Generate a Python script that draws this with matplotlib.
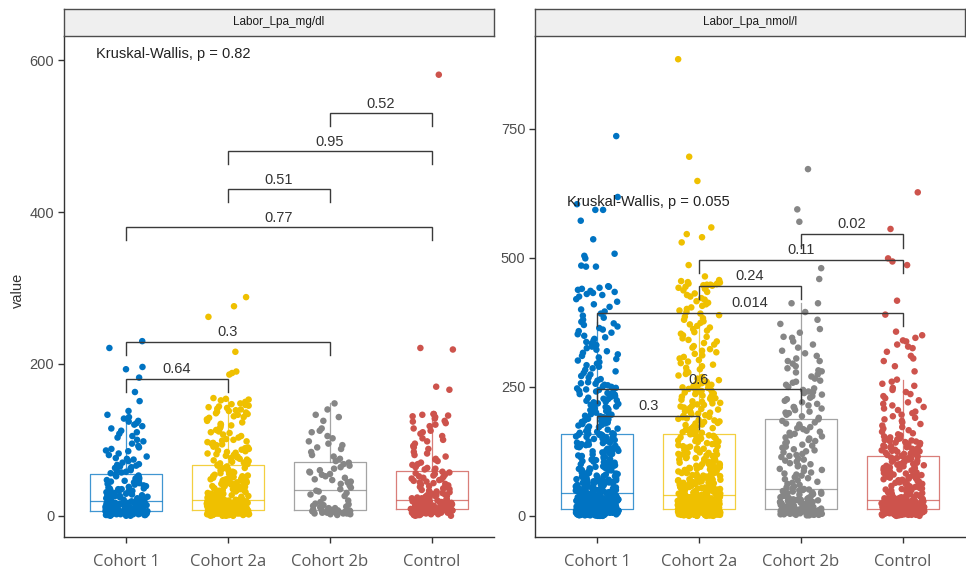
import numpy as np
import matplotlib
matplotlib.use("Agg")
import matplotlib.pyplot as plt

plt.rcParams['font.family'] = ['Liberation Sans', 'DejaVu Sans']


def nums(s):
    return np.array(s.split(), dtype=float)


# ---------------------------------------------------------------------------
# Data
groups = ["Cohort 1", "Cohort 2a", "Cohort 2b", "Control"]
colors = ["#0073C2", "#EFC000", "#868686", "#CD534C"]
panel_titles = ["Labor_Lpa_mg/dl", "Labor_Lpa_nmol/l"]

# Labor_Lpa_mg/dl
c1_mg = nums("""
0 0 0 1 1 1 1 1 1 2 2 2 2 2 2 2 3 3 3 3 3 3 3 3 4 4 4 4 4 4 4 4 5 5 5 5 5 5 5 5 5 6 6 6 6 6 6 6 6 6
7 7 7 7 8 8 8 8 9 9 9 9 10 10 10 10 11 11 11 11 12 12 12 12 13 13 13 13 14 14 14 14 15 15 15 15
16 16 16 16 17 17 17 17 18 18 18 19 19 19
21 21 22 22 23 23 24 24 25 25 26 26 27 27 28 28 29 29 30 30 31 31 32 32 33 33 34 34 35 35 36 36
37 38 39 40 41 42 43 44 45 46 47 48 49 50 51 52 53 54
56 57 58 59 60 62 63 64 65 66 67 68 70 72 74 75 76 78 80 82 85 86 88 90 92 95 98 100 103 105
108 110 112 115 118 120 122 124 125 128 130 133 138 151 163 182 193 196 221 230
""")
c2a_mg = nums("""
0 0 0 0 1 1 1 1 1 1 1 1 2 2 2 2 2 2 2 2 2 2 3 3 3 3 3 3 3 3 3 3 3 4 4 4 4 4 4 4 4 4 4 4
5 5 5 5 5 5 5 5 5 5 5 5 6 6 6 6 6 6 6 6 6 6 6 6 7 7 7 7 7 7 7 7 7 7 7 7
8 8 8 8 8 8 9 9 9 9 9 9 10 10 10 10 10 10 11 11 11 11 11 11 12 12 12 12 12 12 13 13 13 13 13 13
14 14 14 14 14 14 15 15 15 15 15 15 16 16 16 16 16 16 17 17 17 17 17 17 18 18 18 18 18 18
19 19 19 19 19 19 20 20 20 20 20 20 20 20
21 21 22 22 23 23 24 24 25 25 26 26 27 27 28 28 29 29 30 30 31 31 32 32 33 33 34 34 35 35 36 36
37 37 38 38 39 39 40 40 41 41 42 42 43 43 44 44 45 45 46 46 47 47 48 48 49 49 50 50 51 51 52 52
53 53 54 55 56 57 58 59 60 61 62 63 64 65 66 67
68 69 70 71 72 73 74 75 76 77 78 79 80 81 82 83 84 85 86 87 88 89 90 91 92 93 94 95 96 97 98 99
100 101 103 105 107 109 110 111 113 115 117 119 120 121 123 125 127 129 130 131 133 134 135 136
137 138 139 140 141 142 143 144 145 146 147 148 150 152 153 154 155 186 188 190 216 262 276 288
""")
c2b_mg = nums("""
1 2 2 3 3 3 4 4 4 5 5 5 5 6 6 6 6 7 7 7
8 8 9 10 10 11 12 12 13 14 15 16 18 20 23 26 28 30 32 33
35 37 40 42 44 45 47 48 50 52 54 55 57 58 60 62 64 66 68 70
72 75 78 80 84 88 90 93 95 98 102 105 110 112 115 125 130 133 140 148
""")
ctrl_mg = nums("""
0 0 1 1 1 1 2 2 2 2 2 3 3 3 3 3 3 4 4 4 4 4 4 5 5 5 5 5 5 6 6 6 6 6 6 7 7 7 7 7 8 8 8 8 8
9 9 9 9 10 10 10 10 11 11 11 11 12 12 12 12 13 13 13 13 14 14 14 14 15 15 15 15 16 16 16 16
17 17 17 17 18 18 18 18 19 19 19 19 20
21 21 22 22 23 23 24 24 25 25 26 26 27 27 28 29 30 31 32 33 34 35 36 37 38 39 40 41 42 43
44 45 46 47 48 49 50 51 52 53 54 55 56 57 58
60 61 62 63 64 65 67 68 70 72 74 75 78 80 82 84 88 90 92 95 98 100 102 105 108 110 112 115
118 120 122 124 125 128 130 131 132 133 134 134 166 170 219 221 581
""")

# Labor_Lpa_nmol/l
c1_nm = nums("""
0 0 0 0 1 1 1 1 1 1 1 2 2 2 2 2 2 2 2 2 3 3 3 3 3 3 3 3 3 3
4 4 4 4 4 4 4 4 4 4 4 5 5 5 5 5 5 5 5 5 5 5 6 6 6 6 6 6 6 6 6 6 6
7 7 7 7 7 7 7 7 7 7 7 8 8 8 8 8 8 8 8 8 8 8 9 9 9 9 9 9 9 9 9 9 9
10 10 10 10 10 10 10 10 10 10 10 11 11 11 11 11 11 11 11 11 11 11
12 12 12 12 12 12 12 12 12 12 12 13 13 13 13 13 13 13 13 13 13 13
14 14 14 14 14 15 15 15 15 15 16 16 16 16 16 17 17 17 17 17 18 18 18 18 18 19 19 19 19 19
20 20 20 20 20 21 21 21 21 21 22 22 22 22 22 23 23 23 23 23 24 24 24 24 24 25 25 25 25 25
26 26 26 26 26 27 27 27 27 27 28 28 28 28 28 29 29 29 29 29 30 30 30 30 30 31 31 31 31 31
32 32 32 32 32 33 33 33 33 33 34 34 34 34 35 35 35 35 36 36 36 36 37 37 37 37 38 38 38 38
39 39 39 39 40 40 40 40 41 41 41 41 42 42 42 42 43 43 43 43
45 45 46 46 47 47 48 48 49 49 50 50 51 51 52 52 53 53 54 54 55 55 56 56 57 57 58 58 59 59
60 60 61 61 62 62 63 63 64 64 65 65 66 66 67 67 68 68 69 69
70 71 71 73 74 75 77 77 78 80 81 82 82 84 85 87 88 88 89 91 92 93 95 95 96 98 99 100 102 103
103 105 106 108 109 110 110 112 114 115 116 117 119 120 121 121 123 124 126 127 128 130 130 131
133 134 136 137 138 139 141 142 142 144 145 147 148 149 150 151 152 153 154 155 156 157 157 158
159 159 72 76 83 90 97 104 113 125 135 146
160 161 163 164 166 167 169 170 172 173 175 176 178 179 181 182 184 185 187 188 190 191 193 194
196 197 199 200 202 203 205 206 208 209 211 212 214 215 217 218 220 221 223 224 226 227 229 230
232 233 235 236 238 239 241 242 244 245 247 248 250 251 253 254 256 257 259
262 265 268 271 274 277 280 283 286 289 292 295 298 301 304 307 310 313 316 319 322 325 328 331
334 337 340 343 346 349 352 355 358 361 364 367 370 373 376
380 384 388 392 396 400 405 410 415 420 425 428 430 432 434 436 438 440
442 444 445 483 483 485 499 504 508 536 572 593 593 604 618 736
""")
c2a_nm = nums("""
0 0 0 0 1 1 1 1 1 1 1 1 2 2 2 2 2 2 2 2 2 2 3 3 3 3 3 3 3 3 3 3 3
4 4 4 4 4 4 4 4 4 4 4 5 5 5 5 5 5 5 5 5 5 5 6 6 6 6 6 6 6 6 6 6 6
7 7 7 7 7 7 7 7 7 7 7 7 8 8 8 8 8 8 8 8 8 8 8 8 9 9 9 9 9 9 9 9 9 9 9 9
10 10 10 10 10 10 10 10 10 10 10 10 11 11 11 11 11 11 11 11 11 11 11 11
12 12 12 12 12 12 12 12 12 12 12 12 13 13 13 13 13 13 13 13 13 13 13 13
14 14 14 14 14 14 14 15 15 15 15 15 15 15 16 16 16 16 16 16 16 17 17 17 17 17 17 17
18 18 18 18 18 18 18 19 19 19 19 19 19 19 20 20 20 20 20 20 20 21 21 21 21 21 21 21
22 22 22 22 22 22 22 23 23 23 23 23 23 23 24 24 24 24 24 24 24 25 25 25 25 25 25 25
26 26 26 26 26 26 26 27 27 27 27 27 27 27 28 28 28 28 28 28 28 29 29 29 29 29 29 29
30 30 30 30 31 31 31 31 32 32 32 32 33 33 33 33 34 34 34 34 35 35 35 35 36 36 36 36
37 37 37 37 38 38 38 38 39 39
40 40 41 41 42 42 43 43 44 44 45 45 46 46 47 47 48 48 49 49 50 50 51 51 52 52 53 53 54 54
55 55 56 56 57 57 58 58 59 59 60 60 61 61 62 62 63 63 64 64 65 65 66 66 67 67 68 68 69 69
70 70 72 73 74 76 76 77 79 80 81 83 83 84 86 87 88 89 90 92 93 94 94 96 97 99 100 101 101 103
104 106 107 108 109 111 112 112 113 115 116 118 119 120 122 122 123 125 126 127 129 130 131 132
134 135 135 137 138 140 141 143 144 145 146 148 149 150 150 152 153 154 156 157 158 159
71 75 78 82 85 91 95 98 105 110 117 128 139 155
161 162 164 165 167 168 170 171 173 174 176 177 179 180 182 183 185 186 188 189 191 192 194 195
197 198 200 201 203 204 206 207 209 210 212 213 215 216 218 219 221 222 224 225 227 228 230 231
233 234 236 237 239 240 242 243 245 246 248 249 251 252 254 255 257 258 260
263 266 269 272 275 278 281 284 287 290 293 296 299 302 305 308 311 314 317 320 323 326 329 332
335 338 341 344 347 350 353 356 359 362 365 368 371 374 377
380 383 386 389 392 395 398 401 404 407 410 413 416 419 422 425 428 431 434 437 440 442 444 445
446 448 448 450 452 447 449 451 453 457
455 464 486 530 540 546 559 649 696 885
""")
c2b_nm = nums("""
1 1 2 2 2 3 3 3 3 4 4 4 4 4 5 5 5 5 5 6 6 6 6 6 7 7 7 7 7 8 8 8 8 8 8
9 9 9 9 9 9 10 10 10 10 10 10 11 11 11 11 11 11 12 12 12 12 12 12 12
13 13 14 14 15 15 16 16 17 17 18 18 19 19 20 20 21 21 22 22 23 23 24 24 25 25 26 26 27 27
28 28 29 29 30 30 31 31 32 32 33 34 35 36 37 38 39 40 41 42 43 44 45 46 47 48 49 50 51 52
53 55 57 60 62 64 66 69 71 73 75 78 80 82 84 87 89 91 93 96 98 100 102 105 107 109 111 114 116 118
120 123 125 127 129 132 134 136 138 141 143 145 147 150 152 154 156 159 161 163 165 168 170 172 174
177 179 181 184 187
190 193 196 199 200 202 205 208 210 211 214 217 220 223 226 229 232 235 238 240 241 244 247 250
254 258 260 262 266 270 274 278 280 282 286 290 295 300 300 305 310 315 320 326 332 338 345 347
355 362 372 380 395 412 412 459 480 570 594 672
""")
ctrl_nm = nums("""
0 0 1 1 1 2 2 2 2 2 2 3 3 3 3 3 3 3 4 4 4 4 4 4 4 4 5 5 5 5 5 5 5 5 6 6 6 6 6 6 6 6
7 7 7 7 7 7 7 7 8 8 8 8 8 8 8 8 9 9 9 9 9 9 9 9 10 10 10 10 10 10 10 10
11 11 11 11 11 11 11 11 12 12 12 12 12 12 12 12
13 13 13 13 13 14 14 14 14 14 15 15 15 15 15 16 16 16 16 16 17 17 17 17 17 18 18 18 18 18
19 19 19 19 19 20 20 20 20 20 21 21 21 21 21 22 22 22 22 22 23 23 23 23 23 24 24 24 24 24
25 25 25 25 25 26 26 26 26 26 27 27 27 27 27 28 28 28 28 28 29 29 29 29 29 30 30 30 30 30
32 32 33 33 34 34 35 35 36 36 37 38 39 40 41 42 43 44 45 46 47 48 49 50 51 52 53 54 55 56
57 58 59 60 61 62 63 64 65 66 67 68 69 70 71 72 73 74 75 76 77 78 79 80 81 82 83 84 85 86
87 88 89 90 91 92 93 94 95 96 97 98 99 100 101 102 103 104 105 106 107 108 109 110 111 112
113 114 115 116
118 119 120 121 122 123 124 125 126 127 128 129 130 131 132 133 134 135 136 137 138 139 140 141
142 143 144 145 146 147 148 149 150 152 154 156 158 160 163 166 169 172 175 178 181 184 187 190
193 196 199 202 205 208 211 214 217 220 224 228 232 236 240 244 248 252 256 260 264
280 290 300 305 310 318 325 328 332 338 340 345 350 357 390 417 486 493 499 556 627
""")

values_mg = [c1_mg, c2a_mg, c2b_mg, ctrl_mg]
values_nm = [c1_nm, c2a_nm, c2b_nm, ctrl_nm]

# pairwise comparisons and their p values
pairs = [(0, 1), (0, 2), (0, 3), (1, 2), (1, 3), (2, 3)]
p_mg = ["0.64", "0.3", "0.77", "0.51", "0.95", "0.52"]
p_nm = ["0.3", "0.6", "0.014", "0.24", "0.11", "0.02"]
kw_mg = "Kruskal-Wallis, p = 0.82"
kw_nm = "Kruskal-Wallis, p = 0.055"

# ---------------------------------------------------------------------------
# Layout (pixels of a 966 x 577 canvas)
W, H = 966, 577
fig = plt.figure(figsize=(W / 100, H / 100), dpi=100)
fig.patch.set_facecolor("white")


def px_axes(l, t, r, b):
    return fig.add_axes([l / W, 1 - b / H, (r - l) / W, (b - t) / H])


panels = [
    dict(box=(64, 36, 494, 537), vals=values_mg, p=p_mg, kw=kw_mg, ylim=(-28, 632),
         yticks=[0, 200, 400, 600], brk=[180, 229, 380, 430, 480, 530], tick=17, kwy=608),
    dict(box=(535, 36, 965, 537), vals=values_nm, p=p_nm, kw=kw_nm, ylim=(-41, 930),
         yticks=[0, 250, 500, 750], brk=[194, 245, 394, 446, 496, 546], tick=26, kwy=609),
]

rng = np.random.default_rng(11)  # jitter only
pos = np.arange(1, 5)

for k, pan in enumerate(panels):
    l, t, r, b = pan["box"]
    ax = px_axes(l, t, r, b)

    # boxplots (drawn under the points)
    bp = ax.boxplot(pan["vals"], positions=pos, widths=0.7, showfliers=False, showcaps=False,
                    whis=1.5, patch_artist=False, manage_ticks=False)
    for i, c in enumerate(colors):
        for art in [bp["boxes"][i], bp["medians"][i], bp["whiskers"][2 * i], bp["whiskers"][2 * i + 1]]:
            art.set_color(c)
            art.set_alpha(0.75)
            art.set_linewidth(0.9)
            art.set_zorder(1)

    # jittered points
    for i, (v, c) in enumerate(zip(pan["vals"], colors)):
        xj = pos[i] + rng.uniform(-0.21, 0.21, len(v))
        ax.scatter(xj, v, s=22, color=c, edgecolors="none", zorder=2)

    # comparison brackets
    for (a, bb), lab, y in zip(pairs, pan["p"], pan["brk"]):
        x1, x2 = pos[a], pos[bb]
        ax.plot([x1, x1, x2, x2], [y - pan["tick"], y, y, y - pan["tick"]],
                color="#3a3a3a", lw=1.0, zorder=3, solid_joinstyle="miter")
        ax.annotate(lab, xy=((x1 + x2) / 2, y), xytext=(0, 2), textcoords="offset points",
                    ha="center", va="bottom", fontsize=10.5, color="#333333", zorder=4)

    ax.text(0.7, pan["kwy"], pan["kw"], ha="left", va="center", fontsize=10.5,
            color="#222222", zorder=4)

    ax.set_xlim(0.39, 4.61)
    ax.set_ylim(*pan["ylim"])
    ax.set_xticks(pos)
    ax.set_xticklabels(groups, family=["Open Sans", "DejaVu Sans"], fontsize=12, color="#595959")
    ax.set_yticks(pan["yticks"])
    ax.set_yticklabels([str(v) for v in pan["yticks"]], fontsize=10.5, color="#4D4D4D")
    for s in ["top", "right"]:
        ax.spines[s].set_visible(False)
    for s in ["left", "bottom"]:
        ax.spines[s].set_color("#333333")
        ax.spines[s].set_linewidth(1.0)
    ax.tick_params(axis="x", length=4, width=1.0, color="#333333", pad=8)
    ax.tick_params(axis="y", length=4, width=1.0, color="#333333", pad=3)
    ax.set_facecolor("white")

    # facet strip
    sax = px_axes(l, 9, r, 36)
    sax.set_facecolor("#EFEFEF")
    sax.set_xticks([])
    sax.set_yticks([])
    for s in sax.spines.values():
        s.set_color("#4D4D4D")
        s.set_linewidth(1.0)
    sax.text(0.5, 0.5, panel_titles[k], ha="center", va="center", fontsize=8.5,
             color="#1A1A1A", transform=sax.transAxes)

fig.text(18 / W, 1 - 290 / H, "value", rotation=90, ha="center", va="center",
         fontsize=10.5, color="#333333")

fig.savefig("out.png", dpi=100, facecolor="white")
